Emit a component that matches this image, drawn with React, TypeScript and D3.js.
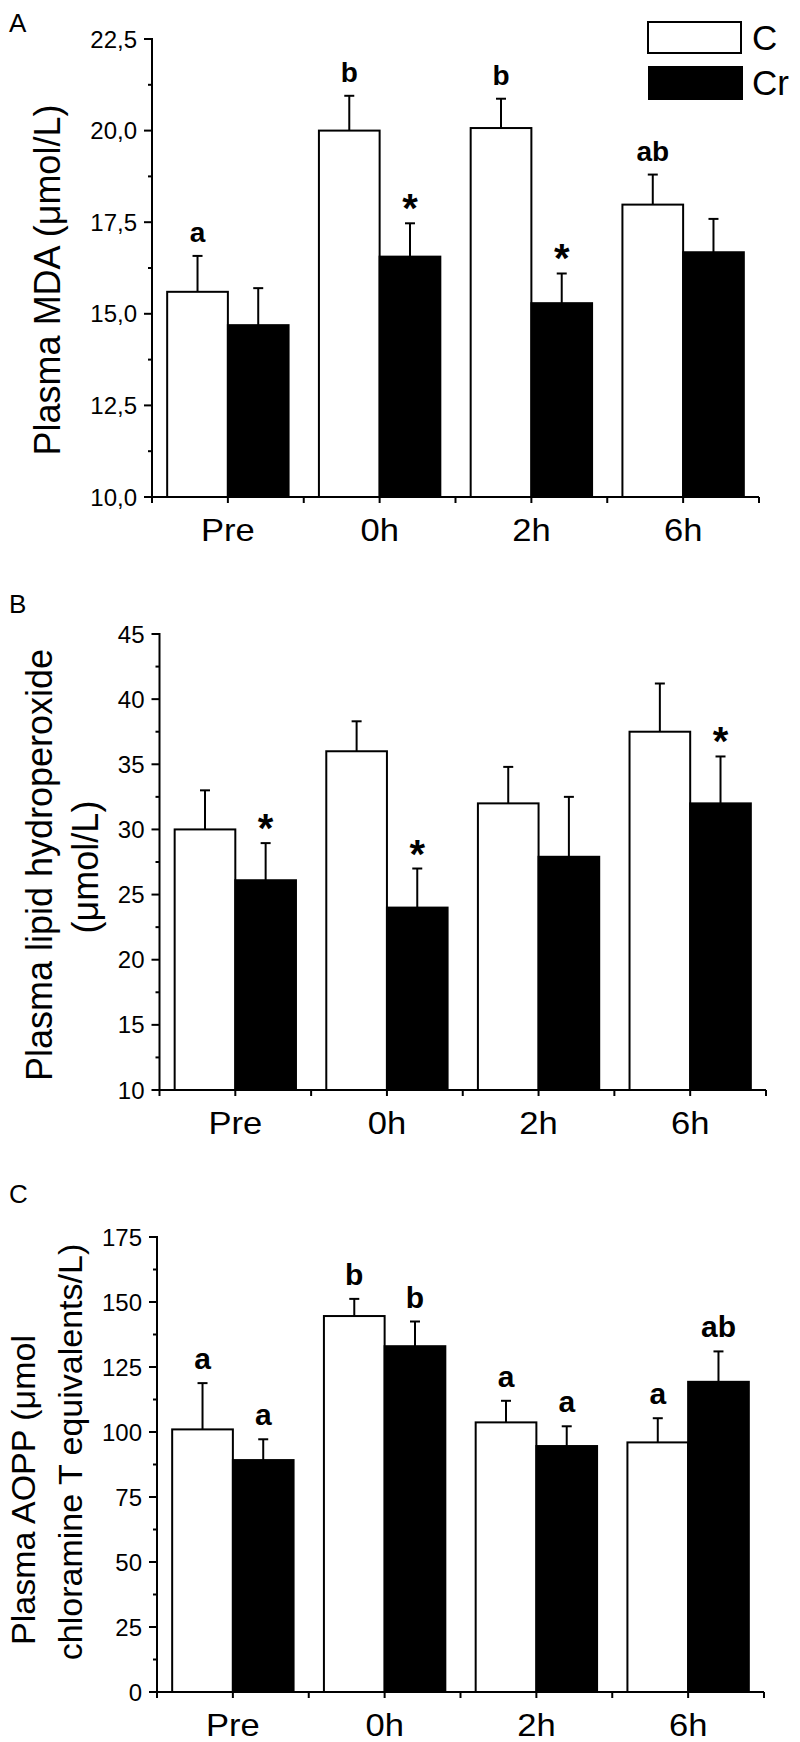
import React from 'react';
import * as d3 from 'd3';

// ---------- data ----------
const groups = ['Pre', '0h', '2h', '6h'];
const seriesNames = ['C', 'Cr'];

// Panel A: Plasma MDA (µmol/L)
const mdaC = [15.6, 20.0, 20.07, 17.98];
const mdaCErr = [0.98, 0.95, 0.8, 0.82];
const mdaCr = [14.69, 16.56, 15.29, 16.68];
const mdaCrErr = [1.01, 0.91, 0.81, 0.91];
const mdaLabelsC = ['a', 'b', 'b', 'ab'];
const mdaLabelsCr = ['', '*', '*', ''];
const mdaTicks = [10, 12.5, 15, 17.5, 20, 22.5];

// Panel B: Plasma lipid hydroperoxide (µmol/L)
const lhC = [30.0, 36.0, 32.0, 37.5];
const lhCErr = [3.0, 2.3, 2.8, 3.7];
const lhCr = [26.1, 24.0, 27.9, 32.0];
const lhCrErr = [2.85, 3.0, 4.6, 3.6];
const lhLabelsC = ['', '', '', ''];
const lhLabelsCr = ['*', '*', '', '*'];
const lhTicks = [10, 15, 20, 25, 30, 35, 40, 45];

// Panel C: Plasma AOPP (µmol chloramine T equivalents/L)
const aoppC = [101, 144.6, 103.7, 96];
const aoppCErr = [17.8, 6.6, 8.3, 9.3];
const aoppCr = [89.2, 133, 94.6, 119.3];
const aoppCrErr = [8.0, 9.5, 7.6, 11.7];
const aoppLabelsC = ['a', 'b', 'a', 'a'];
const aoppLabelsCr = ['a', 'b', 'a', 'ab'];
const aoppTicks = [0, 25, 50, 75, 100, 125, 150, 175];

const FONT = '"Liberation Sans", Arial, Helvetica, sans-serif';

type TitleLine = { text: string; x: number; y: number };

type PanelProps = {
  letter: string;
  letterY: number;
  x0: number;
  x1: number;
  yBottom: number;
  yTop: number;
  ticks: number[];
  fmt: (v: number) => string;
  c: number[];
  cErr: number[];
  cr: number[];
  crErr: number[];
  labC: string[];
  labCr: string[];
  labSize: number;
  titleLines: TitleLine[];
  titleSize: number;
};

function Panel(p: PanelProps) {
  const domain: [number, number] = [p.ticks[0], p.ticks[p.ticks.length - 1]];
  const y = d3.scaleLinear().domain(domain).range([p.yBottom, p.yTop]);
  const x = d3
    .scaleBand<string>()
    .domain(groups)
    .range([p.x0, p.x1])
    .paddingInner(0.2)
    .paddingOuter(0.1);
  const xs = d3.scaleBand<string>().domain(seriesNames).range([0, x.bandwidth()]);
  const step = x.step();
  const minor: number[] = [];
  for (let i = 0; i < p.ticks.length - 1; i++) minor.push((p.ticks[i] + p.ticks[i + 1]) / 2);
  const xTicks: number[] = [];
  groups.forEach((g) => xTicks.push((x(g) as number) + x.bandwidth() / 2));
  const xMinor: number[] = [p.x0];
  groups.forEach((g) => xMinor.push((x(g) as number) + x.bandwidth() / 2 + step / 2));

  const seriesData = [
    { name: 'C', vals: p.c, errs: p.cErr, labs: p.labC, fill: '#fff' },
    { name: 'Cr', vals: p.cr, errs: p.crErr, labs: p.labCr, fill: '#000' },
  ];

  return (
    <g>
      <text x={9} y={p.letterY} fontSize={26} fontFamily={FONT} fill="#000">
        {p.letter}
      </text>
      {/* bars */}
      {seriesData.map((s) =>
        groups.map((g, i) => {
          const bx = (x(g) as number) + (xs(s.name) as number);
          const bw = xs.bandwidth();
          const top = y(s.vals[i]);
          const errTop = y(s.vals[i] + s.errs[i]);
          const cx = bx + bw / 2;
          const lab = s.labs[i];
          return (
            <g key={s.name + g}>
              <line x1={cx} x2={cx} y1={top} y2={errTop} stroke="#000" strokeWidth={2} />
              <line x1={cx - 5} x2={cx + 5} y1={errTop} y2={errTop} stroke="#000" strokeWidth={2} />
              <rect
                x={bx}
                y={top}
                width={bw}
                height={p.yBottom - top}
                fill={s.fill}
                stroke="#000"
                strokeWidth={2}
              />
              {lab === '*' ? (
                <text x={cx} y={errTop - 1} textAnchor="middle" fontSize={40} fontWeight="bold" fontFamily={FONT}>
                  *
                </text>
              ) : lab ? (
                <text x={cx} y={errTop - 14} textAnchor="middle" fontSize={p.labSize} fontWeight="bold" fontFamily={FONT}>
                  {lab}
                </text>
              ) : null}
            </g>
          );
        })
      )}
      {/* y axis */}
      <line x1={p.x0} x2={p.x0} y1={p.yBottom + 1} y2={p.yTop - 1} stroke="#000" strokeWidth={2} />
      {p.ticks.map((t) => (
        <g key={'yt' + t}>
          <line x1={p.x0 - 8} x2={p.x0} y1={y(t)} y2={y(t)} stroke="#000" strokeWidth={2} />
          <text x={p.x0 - 15} y={y(t) + 8.5} textAnchor="end" fontSize={24} fontFamily={FONT}>
            {p.fmt(t)}
          </text>
        </g>
      ))}
      {minor.map((t) => (
        <line key={'ym' + t} x1={p.x0 - 4} x2={p.x0} y1={y(t)} y2={y(t)} stroke="#000" strokeWidth={2} />
      ))}
      {/* x axis */}
      <line x1={p.x0 - 1} x2={p.x1} y1={p.yBottom} y2={p.yBottom} stroke="#000" strokeWidth={2} />
      {xTicks.concat(xMinor).map((t, i) => (
        <line key={'xt' + i} x1={t} x2={t} y1={p.yBottom} y2={p.yBottom + 6} stroke="#000" strokeWidth={2} />
      ))}
      {groups.map((g, i) => (
        <text
          key={'xl' + g}
          transform={`translate(${xTicks[i]},${p.yBottom + 44}) scale(1.08,1)`}
          textAnchor="middle"
          fontSize={32}
          fontFamily={FONT}
        >
          {g}
        </text>
      ))}
      {/* y title */}
      {p.titleLines.map((l, i) => (
        <text
          key={'tt' + i}
          transform={`translate(${l.x},${l.y}) rotate(-90)`}
          textAnchor="middle"
          fontSize={p.titleSize}
          fontFamily={FONT}
        >
          {l.text}
        </text>
      ))}
    </g>
  );
}

const commaFmt = (v: number) => d3.format('.1f')(v).replace('.', ',');
const intFmt = (v: number) => d3.format('d')(v);

export default function App() {
  return (
    <svg
      width={800}
      height={1742}
      style={{ position: 'absolute', left: 0, top: 0, background: '#fff' }}
      xmlns="http://www.w3.org/2000/svg"
    >
      <rect x={0} y={0} width={800} height={1742} fill="#fff" />
      <Panel
        letter="A"
        letterY={32}
        x0={152}
        x1={759}
        yBottom={497}
        yTop={39}
        ticks={mdaTicks}
        fmt={commaFmt}
        c={mdaC}
        cErr={mdaCErr}
        cr={mdaCr}
        crErr={mdaCrErr}
        labC={mdaLabelsC}
        labCr={mdaLabelsCr}
        labSize={28}
        titleLines={[{ text: 'Plasma MDA (μmol/L)', x: 60, y: 280 }]}
        titleSize={36}
      />
      <Panel
        letter="B"
        letterY={613}
        x0={159.5}
        x1={766}
        yBottom={1090}
        yTop={634}
        ticks={lhTicks}
        fmt={intFmt}
        c={lhC}
        cErr={lhCErr}
        cr={lhCr}
        crErr={lhCrErr}
        labC={lhLabelsC}
        labCr={lhLabelsCr}
        labSize={28}
        titleLines={[
          { text: 'Plasma lipid hydroperoxide', x: 52, y: 865 },
          { text: '(μmol/L)', x: 98, y: 867 },
        ]}
        titleSize={36}
      />
      <Panel
        letter="C"
        letterY={1203}
        x0={157}
        x1={764}
        yBottom={1692}
        yTop={1237}
        ticks={aoppTicks}
        fmt={intFmt}
        c={aoppC}
        cErr={aoppCErr}
        cr={aoppCr}
        crErr={aoppCrErr}
        labC={aoppLabelsC}
        labCr={aoppLabelsCr}
        labSize={30}
        titleLines={[
          { text: 'Plasma AOPP (μmol', x: 35, y: 1490 },
          { text: 'chloramine T equivalents/L)', x: 82, y: 1452 },
        ]}
        titleSize={34}
      />
      {/* legend */}
      <rect x={648} y={22} width={93} height={31} fill="#fff" stroke="#000" strokeWidth={2} />
      <rect x={649} y={67} width={93} height={32} fill="#000" stroke="#000" strokeWidth={2} />
      <text x={752} y={50} fontSize={35} fontFamily={FONT}>
        {seriesNames[0]}
      </text>
      <text x={752} y={95} fontSize={35} fontFamily={FONT}>
        {seriesNames[1]}
      </text>
    </svg>
  );
}
